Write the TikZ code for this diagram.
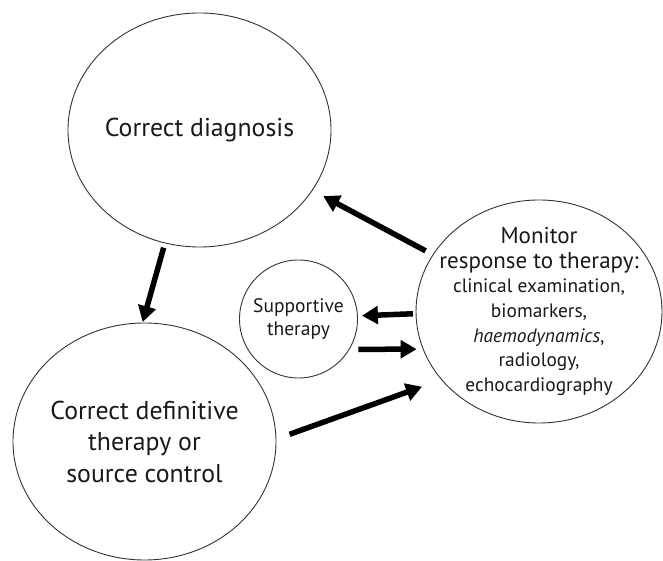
\documentclass[tikz,border=0pt]{standalone}
\usepackage{fontspec}
\setmainfont{PT Sans}
\usetikzlibrary{shapes.geometric, arrows.meta}

\newcommand{\bigtxt}{\fontsize{23}{29}\selectfont}
\newcommand{\smalltxt}{\fontsize{19.4}{24.6}\selectfont}

\begin{document}
\begin{tikzpicture}[x=1pt, y=1pt,
        bubble/.style={ellipse, draw=black!80, line width=0.9pt, inner sep=-20pt, outer sep=0pt, align=center, text=black!90},
        arr/.style={line width=5.5pt, -{Triangle[length=16pt, width=17.5pt]}}]
        \useasboundingbox (0,0) rectangle (663,561);

        \node[bubble, minimum width=263pt, minimum height=234pt, font=\fontsize{25.8}{31.5}\selectfont] (diag) at (199.5,431) {Correct diagnosis};
        \node[bubble, minimum width=263pt, minimum height=237pt, font=\fontsize{25.8}{31.5}\selectfont] (defin) at (144.5,119.5) {Correct definitive\\therapy or\\source control};
        \node[bubble, minimum width=118pt, minimum height=118pt, font=\fontsize{19.5}{23}\selectfont] (supp) at (298.5,242) {Supportive\\therapy};
        \node[bubble, minimum width=246pt, minimum height=223pt, font=\smalltxt] (mon) at (539,249.5)
            {\bigtxt Monitor\\\bigtxt response to therapy:\\
             clinical examination,\\biomarkers,\\\textit{haemodynamics},\\radiology,\\echocardiography};

        \path[arr]
        (mon) edge [shorten <=8.5pt, shorten >=12.5pt] (diag)
        (diag.253) edge [shorten <=5pt, shorten >=1pt] (defin.91)
        (mon.181.6) edge [shorten <=3pt, shorten >=4.5pt] (supp.3.9)
        (supp.-31.7) edge [shorten <=9.3pt, shorten >=6.6pt] (mon.198.45)
        (defin.1.77) edge [shorten <=14.5pt, shorten >=20.8pt] (mon.215.2);

    \end{tikzpicture}
\end{document}
